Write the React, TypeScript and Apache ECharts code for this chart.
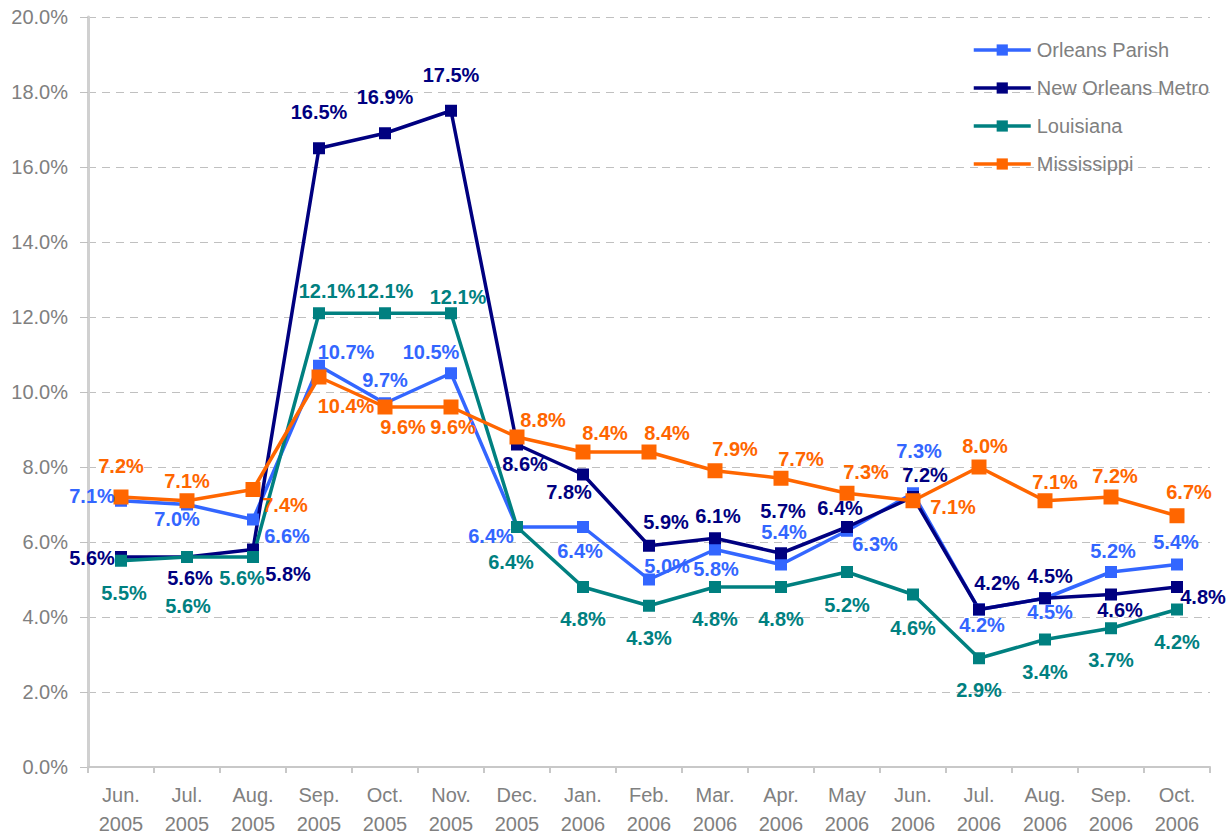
import React, { useEffect, useRef } from "react";
import * as echarts from "echarts";

const categories = [
  "Jun.\n2005", "Jul.\n2005", "Aug.\n2005", "Sep.\n2005", "Oct.\n2005", "Nov.\n2005",
  "Dec.\n2005", "Jan.\n2006", "Feb.\n2006", "Mar.\n2006", "Apr.\n2006", "May\n2006",
  "Jun.\n2006", "Jul.\n2006", "Aug.\n2006", "Sep.\n2006", "Oct.\n2006",
];

const orleansParish = [7.1, 7.0, 6.6, 10.7, 9.7, 10.5, 6.4, 6.4, 5.0, 5.8, 5.4, 6.3, 7.3, 4.2, 4.5, 5.2, 5.4];
const newOrleansMetro = [5.6, 5.6, 5.8, 16.5, 16.9, 17.5, 8.6, 7.8, 5.9, 6.1, 5.7, 6.4, 7.2, 4.2, 4.5, 4.6, 4.8];
const louisiana = [5.5, 5.6, 5.6, 12.1, 12.1, 12.1, 6.4, 4.8, 4.3, 4.8, 4.8, 5.2, 4.6, 2.9, 3.4, 3.7, 4.2];
const mississippi = [7.2, 7.1, 7.4, 10.4, 9.6, 9.6, 8.8, 8.4, 8.4, 7.9, 7.7, 7.3, 7.1, 8.0, 7.1, 7.2, 6.7];

const yTicks = { min: 0, max: 20, interval: 2 };

// label offsets (styling only)
const orleansOffsets = [[-29, -5], [-10, 14], [34, 16], [27, -14], [0, -23], [-20, -21], [-26, 9], [-3, 24], [18, -14], [1, 19], [3, -33], [28, 13], [6, -42], [3, 15], [5, 14], [2, -21], [-1, -23]];
const metroOffsets = [[-29, 1], [3, 21], [35, 24], [0, -36], [0, -36], [0, -36], [8, 19], [-14, 17], [17, -24], [3, -22], [2, -42], [-7, -19], [12, -22], [18, -27], [5, -22], [9, 15], [26, 10]];
const louisianaOffsets = [[3, 32], [1, 49], [-11, 21], [8, -22], [0, -22], [7, -16], [-6, 35], [0, 32], [0, 32], [0, 32], [0, 32], [0, 33], [0, 33], [0, 32], [0, 32], [0, 32], [0, 32]];
const mississippiOffsets = [[0, -31], [0, -20], [32, 15], [27, 29], [18, 20], [2, 20], [26, -17], [22, -19], [18, -19], [20, -22], [20, -19], [19, -21], [40, 6], [6, -21], [10, -19], [4, -21], [12, -24]];

const FONT = "'Liberation Sans', Arial, sans-serif";

function makeSeries(name: string, values: number[], offsets: number[][], color: string, symbolSize: number) {
  return {
    name,
    type: "line",
    data: values.map((v, i) => ({
      value: v,
      label: { offset: offsets[i] },
    })),
    symbol: "rect",
    symbolSize,
    lineStyle: { color, width: 3.5 },
    itemStyle: { color },
    label: {
      show: true,
      position: "inside",
      formatter: (p: any) => p.value.toFixed(1) + "%",
      color,
      fontFamily: FONT,
      fontWeight: "bold",
      fontSize: 20,
      align: "center",
      verticalAlign: "middle",
    },
    emphasis: { disabled: true },
  };
}

export default function App() {
  const ref = useRef<HTMLDivElement>(null);
  useEffect(() => {
    if (!ref.current) return;
    const chart = echarts.init(ref.current, null, { renderer: "svg" });
    chart.setOption({
      animation: false,
      backgroundColor: "#ffffff",
      grid: { left: 88, right: 18, top: 17, bottom: 72, containLabel: false },
      legend: {
        left: 967,
        top: 34,
        orient: "vertical",
        itemWidth: 57,
        itemHeight: 14,
        itemGap: 16,
        lineStyle: { width: 3.5 },
        textStyle: { color: "#808080", fontSize: 20, lineHeight: 22, fontFamily: FONT, padding: [0, 0, 0, 1] },
        data: ["Orleans Parish", "New Orleans Metro", "Louisiana", "Mississippi"],
      },
      xAxis: {
        type: "category",
        data: categories,
        boundaryGap: true,
        axisLine: { lineStyle: { color: "#c8c8c8", width: 2 } },
        axisTick: { show: true, length: 6, lineStyle: { color: "#c8c8c8", width: 2 } },
        axisLabel: {
          color: "#808080",
          fontSize: 20,
          fontFamily: FONT,
          lineHeight: 29,
          margin: 13,
          interval: 0,
        },
      },
      yAxis: {
        type: "value",
        min: yTicks.min,
        max: yTicks.max,
        interval: yTicks.interval,
        axisLine: { show: true, lineStyle: { color: "#d0d0d0", width: 3 } },
        axisTick: { show: true, length: 8, lineStyle: { color: "#c0c0c0" } },
        splitLine: { show: true, lineStyle: { color: "#c0c0c0", type: [8, 6], width: 1 } },
        axisLabel: {
          color: "#808080",
          fontSize: 20,
          fontFamily: FONT,
          margin: 20,
          formatter: (v: number) => v.toFixed(1) + "%",
        },
      },
      series: [
        makeSeries("Orleans Parish", orleansParish, orleansOffsets, "#3366ff", 12),
        makeSeries("New Orleans Metro", newOrleansMetro, metroOffsets, "#000080", 12),
        makeSeries("Louisiana", louisiana, louisianaOffsets, "#008080", 12),
        makeSeries("Mississippi", mississippi, mississippiOffsets, "#ff6600", 15),
      ],
    });
    return () => chart.dispose();
  }, []);
  return <div ref={ref} style={{ width: 1228, height: 839, position: "absolute", left: 0, top: 0 }} />;
}
